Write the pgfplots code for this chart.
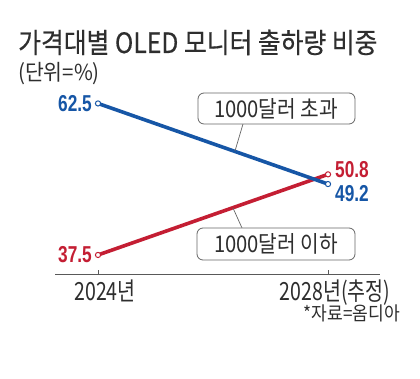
\documentclass[border=0pt]{standalone}
\usepackage{pgfplots}
\pgfplotsset{compat=1.18}
\usepackage{fontspec}
\setmainfont{Noto Sans CJK KR}
\newfontfamily\titlefont[FakeBold=0.5]{Noto Sans CJK KR}
\newfontfamily\numfont{Liberation Sans}
\definecolor{cblue}{HTML}{1656A6}
\definecolor{cred}{HTML}{C41E33}
\definecolor{ctext}{HTML}{2E2E2E}
\newcommand{\cz}[2]{\scalebox{#1}[1]{#2}}
\begin{document}
\begin{tikzpicture}[x=1pt,y=1pt]
\fill[white] (0,0) rectangle (420,379);
% title
\node[anchor=base west, inner sep=0, text=ctext] at (18,326) {\titlefont\fontsize{28}{28}\selectfont\cz{0.885}{가격대별 OLED 모니터 출하량 비중}};
\node[anchor=base west, inner sep=0, text=ctext] at (18,298) {\fontsize{22}{22}\selectfont\cz{0.93}{(단위=\%)}};
\node[anchor=base east, inner sep=0, text=ctext] at (400,58) {\fontsize{19}{19}\selectfont\cz{0.9}{*자료=옴디아}};
\begin{axis}[at={(55pt,105pt)}, anchor=south west, scale only axis,
  width=325pt, height=180pt,
  xmin=-0.187, xmax=1.226, ymin=34.36, ymax=64.06,
  axis x line=bottom, axis y line=none,
  axis line style={-, draw=black!65, line width=0.9pt},
  xtick={0,1}, xticklabels={\cz{0.78}{2024년}, \cz{0.78}{2028년(추정)}},
  tick align=inside, major tick length=4pt,
  tick style={draw=black!65, line width=0.7pt},
  xticklabel style={font=\fontsize{25}{25}\selectfont, text=ctext, xshift=7pt, yshift=-2pt},
  clip=false]
\addplot[cred, line width=3.6pt, mark=*, mark size=2.6pt,
  mark options={fill=white, draw=cred, line width=1pt, solid}]
  coordinates {(0,37.5) (1,50.8)};
\addplot[cblue, line width=3.6pt, mark=*, mark size=2.6pt,
  mark options={fill=white, draw=cblue, line width=1pt, solid}]
  coordinates {(0,62.5) (1,49.2)};
\node[anchor=east, inner sep=0, text=cblue, xshift=-6pt] at (axis cs:0,62.5) {\numfont\bfseries\fontsize{23}{23}\selectfont\cz{0.75}{62.5}};
\node[anchor=east, inner sep=0, text=cred, xshift=-6pt] at (axis cs:0,37.5) {\numfont\bfseries\fontsize{23}{23}\selectfont\cz{0.75}{37.5}};
\node[anchor=west, inner sep=0, text=cred, xshift=7pt, yshift=5pt] at (axis cs:1,50.8) {\numfont\bfseries\fontsize{23}{23}\selectfont\cz{0.75}{50.8}};
\node[anchor=west, inner sep=0, text=cblue, xshift=7pt, yshift=-10pt] at (axis cs:1,49.2) {\numfont\bfseries\fontsize{23}{23}\selectfont\cz{0.75}{49.2}};
\end{axis}
% callouts
\draw[black!60, line width=0.7pt] (243,255) -- (235,228);
\draw[black!60, line width=0.7pt] (233,171) -- (242,151);
\draw[rounded corners=6pt, draw=black!60, line width=0.8pt, fill=white] (198,286) rectangle (355,255);
\node[text=ctext, inner sep=0] at (276,270.5) {\fontsize{23}{23}\selectfont\cz{0.88}{1000달러 초과}};
\draw[rounded corners=6pt, draw=black!60, line width=0.8pt, fill=white] (197,151) rectangle (355,119);
\node[text=ctext, inner sep=0] at (276,135) {\fontsize{23}{23}\selectfont\cz{0.88}{1000달러 이하}};
\end{tikzpicture}
\end{document}
